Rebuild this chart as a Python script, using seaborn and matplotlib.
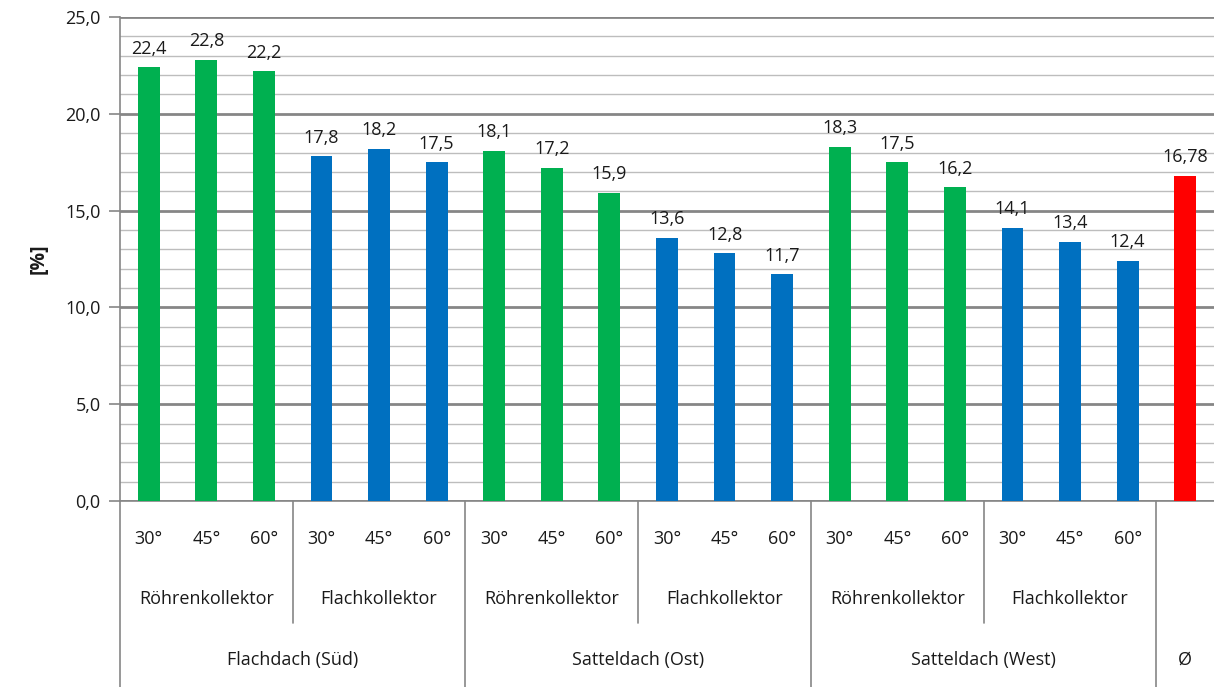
import matplotlib
matplotlib.use("Agg")
import matplotlib.pyplot as plt
import matplotlib.transforms as mtransforms
from matplotlib.ticker import FuncFormatter, MultipleLocator
import seaborn as sns
import pandas as pd

# Data
angles = ["30°", "45°", "60°"] * 6 + [""]
collectors = ["Röhrenkollektor", "Flachkollektor"] * 3
roofs = ["Flachdach (Süd)", "Satteldach (Ost)", "Satteldach (West)", "Ø"]
values = [22.4, 22.8, 22.2, 17.8, 18.2, 17.5,
          18.1, 17.2, 15.9, 13.6, 12.8, 11.7,
          18.3, 17.5, 16.2, 14.1, 13.4, 12.4,
          16.78]
value_labels = ["22,4", "22,8", "22,2", "17,8", "18,2", "17,5",
                "18,1", "17,2", "15,9", "13,6", "12,8", "11,7",
                "18,3", "17,5", "16,2", "14,1", "13,4", "12,4",
                "16,78"]

GREEN, BLUE, RED = "#00B050", "#0070C0", "#FF0000"
bar_colors = ([GREEN] * 3 + [BLUE] * 3) * 3 + [RED]

sns.set_theme(style="white")
plt.rcParams["font.family"] = ["Open Sans", "DejaVu Sans"]

FS = 13
TXT = "#1a1a1a"

df = pd.DataFrame({"pos": [str(i) for i in range(len(values))], "value": values})

fig = plt.figure(figsize=(12.14, 6.87), dpi=100)
ax = fig.add_axes([0.0988, 0.2707, 0.9012, 0.7046])

sns.barplot(data=df, x="pos", y="value", hue="pos", palette=bar_colors,
            legend=False, width=0.38, saturation=1, linewidth=0, ax=ax, zorder=3)

ax.set_xlim(-0.5, len(values) - 0.5)
ax.set_ylim(0, 25)
ax.yaxis.set_major_locator(MultipleLocator(5))
ax.yaxis.set_minor_locator(MultipleLocator(1))
ax.yaxis.set_major_formatter(FuncFormatter(lambda v, p: f"{v:.1f}".replace(".", ",")))
ax.grid(axis="y", which="minor", color="#BDBDBD", linewidth=1.0, zorder=0)
ax.grid(axis="y", which="major", color="#868686", linewidth=2.0, zorder=1)
ax.set_axisbelow(True)

for side in ["top", "right"]:
    ax.spines[side].set_visible(False)
ax.spines["left"].set_color("#868686")
ax.spines["left"].set_linewidth(1.2)
ax.spines["bottom"].set_color("#868686")
ax.spines["bottom"].set_linewidth(1.2)

ax.tick_params(axis="y", which="major", length=8, width=1.2, color="#868686",
               labelsize=FS, labelcolor=TXT, pad=6, left=True)
ax.tick_params(axis="y", which="minor", length=0)
ax.set_xticks([])
ax.set_xlabel("")
ax.set_ylabel("[%]", fontsize=FS + 1, fontweight="bold", labelpad=12, color=TXT)

# Value labels above bars
for i, (v, lab) in enumerate(zip(values, value_labels)):
    ax.text(i, v + 0.5, lab, ha="center", va="bottom", fontsize=FS, color=TXT)

# Multi-level category axis
trans = mtransforms.blended_transform_factory(ax.transData, ax.transAxes)
for i, a in enumerate(angles):
    if a:
        ax.text(i, -0.078, a, transform=trans, ha="center", va="center",
                fontsize=FS, color=TXT)
for k, name in enumerate(collectors):
    ax.text(3 * k + 1, -0.203, name, transform=trans, ha="center", va="center",
            fontsize=FS, color=TXT)
for k, name in enumerate(roofs):
    center = 6 * k + 2.5 if k < 3 else 18
    ax.text(center, -0.328, name, transform=trans, ha="center", va="center",
            fontsize=FS, color=TXT)

line_kw = dict(transform=trans, color="#868686", linewidth=1.2, clip_on=False)
for x in [2.5, 8.5, 14.5]:
    ax.plot([x, x], [0, -0.252], **line_kw)
for x in [5.5, 11.5, 17.5]:
    ax.plot([x, x], [0, -0.39], **line_kw)
ax.plot([-0.5, -0.5], [0, -0.39], **line_kw)

fig.savefig("out.png", dpi=100)
